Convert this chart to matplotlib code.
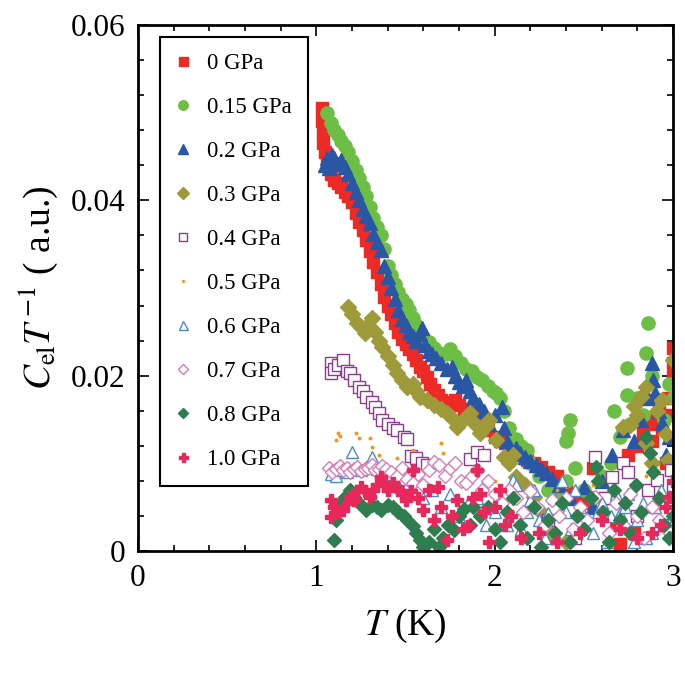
import matplotlib
matplotlib.use('Agg')
import matplotlib.pyplot as plt
from matplotlib.path import Path

plt.rcParams['font.family'] = ['Liberation Serif', 'DejaVu Serif']
plt.rcParams['mathtext.fontset'] = 'stix'

# ---- data (T in K, C_el/T in a.u.) ----
labels = ['0 GPa', '0.15 GPa', '0.2 GPa', '0.3 GPa', '0.4 GPa',
          '0.5 GPa', '0.6 GPa', '0.7 GPa', '0.8 GPa', '1.0 GPa']

t_00 = [1.03, 1.03, 1.04, 1.04, 1.05, 1.06, 1.08, 1.10, 1.12, 1.14, 1.16, 1.18, 1.20, 1.22, 1.24, 1.26,
        1.28, 1.30, 1.32, 1.34, 1.36, 1.38, 1.40, 1.42, 1.44, 1.46, 1.48, 1.50, 1.52, 1.54, 1.56, 1.58,
        1.60, 1.62, 1.64, 1.66, 1.68, 1.70, 1.72, 1.75, 1.78, 1.80, 1.83, 1.86, 1.89, 1.92, 1.96, 2.00,
        2.03, 2.06, 2.09, 2.12, 2.15, 2.18, 2.22, 2.26, 2.30, 2.35, 2.40, 2.45, 2.50, 2.55, 2.62, 2.68,
        2.70, 2.75, 2.78, 2.80, 2.83, 2.86, 2.88, 2.90, 2.92, 2.94, 2.96, 2.97, 2.99, 3.00, 3.00, 3.00]
c_00 = [0.0505, 0.0490, 0.0478, 0.0465, 0.0455, 0.0445, 0.0430, 0.0423, 0.0420, 0.0415, 0.0410, 0.0405,
        0.0398, 0.0385, 0.0375, 0.0366, 0.0355, 0.0342, 0.0330, 0.0318, 0.0305, 0.0290, 0.0280, 0.0270,
        0.0260, 0.0250, 0.0242, 0.0236, 0.0230, 0.0225, 0.0218, 0.0210, 0.0205, 0.0198, 0.0190, 0.0184,
        0.0178, 0.0172, 0.0170, 0.0168, 0.0172, 0.0166, 0.0162, 0.0160, 0.0155, 0.0148, 0.0138, 0.0130,
        0.0126, 0.0123, 0.0120, 0.0118, 0.0110, 0.0104, 0.0100, 0.0096, 0.0090, 0.0086, 0.0072, 0.0060,
        0.0055, 0.0095, 0.0060, 0.0030, 0.0008, 0.0110, 0.0020, 0.0120, 0.0135, 0.0150, 0.0125, 0.0145,
        0.0160, 0.0140, 0.0100, 0.0175, 0.0155, 0.0200, 0.0215, 0.0232]

t_015 = [1.06, 1.08, 1.10, 1.12, 1.14, 1.16, 1.18, 1.20, 1.22, 1.24, 1.26, 1.28, 1.30, 1.32, 1.34, 1.36,
         1.38, 1.40, 1.42, 1.44, 1.46, 1.48, 1.50, 1.52, 1.54, 1.56, 1.58, 1.60, 1.63, 1.66, 1.69, 1.72,
         1.75, 1.78, 1.81, 1.84, 1.87, 1.90, 1.93, 1.96, 1.99, 2.01, 2.03, 2.05, 2.08, 2.12, 2.15, 2.18,
         2.20, 2.25, 2.30, 2.35, 2.40, 2.40, 2.41, 2.42, 2.45, 2.50, 2.55, 2.60, 2.65, 2.67, 2.70, 2.72,
         2.74, 2.74, 2.76, 2.80, 2.83, 2.85, 2.86, 2.88, 2.92, 2.95, 2.98, 3.00]
c_015 = [0.0500, 0.0488, 0.0480, 0.0475, 0.0468, 0.0462, 0.0455, 0.0445, 0.0435, 0.0425, 0.0415, 0.0405,
         0.0392, 0.0380, 0.0370, 0.0360, 0.0345, 0.0325, 0.0315, 0.0305, 0.0295, 0.0288, 0.0282, 0.0275,
         0.0266, 0.0258, 0.0250, 0.0244, 0.0238, 0.0232, 0.0226, 0.0225, 0.0230, 0.0222, 0.0215, 0.0208,
         0.0205, 0.0199, 0.0195, 0.0188, 0.0182, 0.0180, 0.0175, 0.0160, 0.0140, 0.0128, 0.0120, 0.0115,
         0.0100, 0.0085, 0.0070, 0.0065, 0.0080, 0.0125, 0.0135, 0.0150, 0.0095, 0.0070, 0.0060, 0.0085,
         0.0100, 0.0160, 0.0130, 0.0138, 0.0178, 0.0209, 0.0145, 0.0175, 0.0155, 0.0226, 0.0260, 0.0200,
         0.0172, 0.0150, 0.0190, 0.0175]

t_02 = [1.05, 1.06, 1.07, 1.08, 1.09, 1.10, 1.12, 1.14, 1.16, 1.18, 1.20, 1.22, 1.24, 1.26, 1.28, 1.30,
        1.32, 1.34, 1.36, 1.38, 1.40, 1.42, 1.44, 1.46, 1.48, 1.50, 1.52, 1.54, 1.56, 1.58, 1.59, 1.61,
        1.63, 1.65, 1.67, 1.70, 1.73, 1.76, 1.78, 1.80, 1.82, 1.84, 1.86, 1.88, 1.91, 1.94, 1.95, 1.97,
        2.00, 2.04, 2.05, 2.07, 2.09, 2.12, 2.14, 2.17, 2.20, 2.23, 2.26, 2.29, 2.32, 2.36, 2.42, 2.50,
        2.55, 2.60, 2.66, 2.72, 2.78, 2.82, 2.86, 2.88, 2.89, 2.90, 2.92, 2.94, 2.96, 2.98]
c_02 = [0.0440, 0.0448, 0.0437, 0.0445, 0.0452, 0.0448, 0.0442, 0.0446, 0.0438, 0.0430, 0.0420, 0.0410,
        0.0400, 0.0390, 0.0382, 0.0374, 0.0362, 0.0352, 0.0343, 0.0325, 0.0312, 0.0300, 0.0288, 0.0275,
        0.0265, 0.0258, 0.0250, 0.0245, 0.0240, 0.0248, 0.0254, 0.0235, 0.0228, 0.0225, 0.0220, 0.0215,
        0.0208, 0.0210, 0.0200, 0.0193, 0.0188, 0.0195, 0.0182, 0.0175, 0.0168, 0.0160, 0.0150, 0.0145,
        0.0155, 0.0164, 0.0140, 0.0125, 0.0115, 0.0118, 0.0112, 0.0107, 0.0103, 0.0098, 0.0093, 0.0089,
        0.0082, 0.0075, 0.0060, 0.0073, 0.0050, 0.0080, 0.0110, 0.0138, 0.0125, 0.0150, 0.0175, 0.0214,
        0.0195, 0.0180, 0.0160, 0.0146, 0.0110, 0.0130]

t_03 = [1.18, 1.20, 1.23, 1.25, 1.27, 1.29, 1.31, 1.33, 1.35, 1.37, 1.40, 1.43, 1.45, 1.48, 1.51, 1.54,
        1.56, 1.58, 1.62, 1.66, 1.70, 1.73, 1.76, 1.79, 1.82, 1.86, 1.89, 1.92, 1.95, 1.97, 2.01, 2.05,
        2.08, 2.10, 2.12, 2.17, 2.22, 2.26, 2.31, 2.40, 2.72, 2.76, 2.78, 2.80, 2.82, 2.85, 2.85, 2.88,
        2.91, 2.94, 2.96, 2.97, 3.00]
c_03 = [0.0278, 0.0270, 0.0260, 0.0255, 0.0249, 0.0258, 0.0266, 0.0250, 0.0240, 0.0233, 0.0222, 0.0212,
        0.0203, 0.0195, 0.0187, 0.0191, 0.0182, 0.0176, 0.0172, 0.0166, 0.0162, 0.0157, 0.0152, 0.0141,
        0.0150, 0.0157, 0.0145, 0.0135, 0.0143, 0.0150, 0.0127, 0.0107, 0.0100, 0.0110, 0.0084, 0.0075,
        0.0062, 0.0045, 0.0020, 0.0010, 0.0141, 0.0144, 0.0165, 0.0155, 0.0176, 0.0187, 0.0123, 0.0100,
        0.0160, 0.0172, 0.0134, 0.0104, 0.0218]

t_04 = [1.08, 1.08, 1.10, 1.12, 1.15, 1.17, 1.19, 1.21, 1.24, 1.26, 1.28, 1.31, 1.33, 1.35, 1.37, 1.40,
        1.43, 1.45, 1.49, 1.51, 1.53, 1.56, 1.59, 1.62, 1.86, 1.90, 1.94, 2.30, 2.45, 2.56, 2.62, 2.66,
        2.72, 2.75, 2.80, 2.86, 2.91, 2.95, 2.99, 3.00]
c_04 = [0.0214, 0.0203, 0.0208, 0.0212, 0.0218, 0.0205, 0.0203, 0.0195, 0.0187, 0.0182, 0.0176, 0.0170,
        0.0164, 0.0157, 0.0149, 0.0145, 0.0140, 0.0138, 0.0130, 0.0128, 0.0108, 0.0106, 0.0100, 0.0098,
        0.0105, 0.0113, 0.0110, 0.0035, 0.0015, 0.0107, 0.0060, 0.0084, 0.0100, 0.0090, 0.0040, 0.0070,
        0.0081, 0.0030, 0.0092, 0.0070]

t_05 = [1.11, 1.12, 1.13, 1.22, 1.24, 1.30, 1.31, 1.35, 1.45, 1.54, 1.55, 1.65, 1.70, 1.71, 2.00, 2.35,
        2.55, 2.85]
c_05 = [0.0127, 0.0135, 0.0131, 0.0135, 0.0129, 0.0129, 0.0119, 0.0110, 0.0106, 0.0115, 0.0090, 0.0100,
        0.0123, 0.0112, 0.0080, 0.0070, 0.0075, 0.0085]

t_06 = [1.08, 1.11, 1.14, 1.17, 1.20, 1.23, 1.25, 1.28, 1.31, 1.34, 1.37, 1.40, 1.43, 1.46, 1.50, 1.55,
        1.60, 1.65, 1.70, 1.75, 1.80, 1.85, 1.90, 1.95, 2.00, 2.05, 2.07, 2.10, 2.12, 2.15, 2.18, 2.20,
        2.22, 2.25, 2.28, 2.30, 2.33, 2.35, 2.38, 2.40, 2.43, 2.45, 2.48, 2.50, 2.55, 2.58, 2.60, 2.63,
        2.65, 2.68, 2.70, 2.73, 2.75, 2.78, 2.80, 2.83, 2.85, 2.88, 2.90, 2.93, 2.95, 2.98, 3.00]
c_06 = [0.0088, 0.0086, 0.0092, 0.0090, 0.0113, 0.0093, 0.0092, 0.0096, 0.0107, 0.0094, 0.0092, 0.0088,
        0.0080, 0.0075, 0.0072, 0.0068, 0.0060, 0.0070, 0.0050, 0.0065, 0.0040, 0.0055, 0.0060, 0.0030,
        0.0045, 0.0065, 0.0030, 0.0081, 0.0075, 0.0025, 0.0045, 0.0058, 0.0070, 0.0035, 0.0015, 0.0043,
        0.0060, 0.0015, 0.0080, 0.0045, 0.0025, 0.0070, 0.0050, 0.0030, 0.0020, 0.0045, 0.0055, 0.0010,
        0.0040, 0.0065, 0.0043, 0.0050, 0.0065, 0.0010, 0.0035, 0.0055, 0.0015, 0.0020, 0.0050, 0.0070,
        0.0030, 0.0020, 0.0040]

t_07 = [1.07, 1.09, 1.11, 1.13, 1.15, 1.17, 1.19, 1.21, 1.23, 1.25, 1.27, 1.29, 1.31, 1.33, 1.35, 1.37,
        1.39, 1.42, 1.45, 1.48, 1.51, 1.54, 1.57, 1.60, 1.63, 1.66, 1.69, 1.72, 1.75, 1.78, 1.81, 1.84,
        1.87, 1.90, 1.93, 1.96, 2.00, 2.04, 2.08, 2.12, 2.16, 2.20, 2.24, 2.28, 2.32, 2.36, 2.40, 2.44,
        2.48, 2.52, 2.56, 2.60, 2.64, 2.68, 2.72, 2.76, 2.80, 2.84, 2.88, 2.92, 2.96, 3.00]
c_07 = [0.0095, 0.0090, 0.0093, 0.0097, 0.0092, 0.0095, 0.0090, 0.0094, 0.0096, 0.0091, 0.0093, 0.0095,
        0.0098, 0.0092, 0.0094, 0.0097, 0.0093, 0.0090, 0.0085, 0.0095, 0.0082, 0.0078, 0.0088, 0.0075,
        0.0092, 0.0102, 0.0098, 0.0085, 0.0095, 0.0100, 0.0080, 0.0078, 0.0085, 0.0092, 0.0070, 0.0080,
        0.0065, 0.0055, 0.0070, 0.0060, 0.0045, 0.0068, 0.0050, 0.0030, 0.0058, 0.0040, 0.0060, 0.0025,
        0.0050, 0.0035, 0.0062, 0.0045, 0.0020, 0.0055, 0.0030, 0.0065, 0.0040, 0.0015, 0.0050, 0.0035,
        0.0025, 0.0045]

t_08 = [1.10, 1.11, 1.12, 1.14, 1.16, 1.19, 1.21, 1.24, 1.28, 1.31, 1.34, 1.36, 1.40, 1.43, 1.46, 1.49,
        1.51, 1.54, 1.56, 1.58, 1.60, 1.63, 1.66, 1.69, 1.71, 1.74, 1.77, 1.80, 1.83, 1.86, 1.88, 1.92,
        1.96, 2.00, 2.03, 2.07, 2.10, 2.14, 2.18, 2.22, 2.26, 2.30, 2.34, 2.38, 2.42, 2.46, 2.50, 2.54,
        2.57, 2.58, 2.61, 2.64, 2.67, 2.70, 2.73, 2.76, 2.79, 2.82, 2.85, 2.87, 2.89, 2.92, 2.95, 2.98,
        3.00]
c_08 = [0.0012, 0.0035, 0.0047, 0.0055, 0.0062, 0.0070, 0.0062, 0.0055, 0.0047, 0.0052, 0.0050, 0.0047,
        0.0052, 0.0050, 0.0045, 0.0040, 0.0035, 0.0028, 0.0020, 0.0012, 0.0005, 0.0010, 0.0025, 0.0005,
        0.0015, 0.0030, 0.0024, 0.0040, 0.0048, 0.0030, 0.0050, 0.0040, 0.0050, 0.0025, 0.0010, 0.0045,
        0.0060, 0.0030, 0.0015, 0.0050, 0.0005, 0.0035, 0.0020, 0.0055, 0.0010, 0.0040, 0.0025, 0.0060,
        0.0096, 0.0080, 0.0045, 0.0010, 0.0070, 0.0035, 0.0055, 0.0020, 0.0075, 0.0045, 0.0130, 0.0112,
        0.0090, 0.0060, 0.0030, 0.0015, 0.0040]

t_10 = [1.08, 1.08, 1.10, 1.12, 1.15, 1.17, 1.19, 1.21, 1.23, 1.25, 1.27, 1.30, 1.32, 1.34, 1.36, 1.38,
        1.40, 1.43, 1.45, 1.48, 1.50, 1.53, 1.54, 1.57, 1.60, 1.63, 1.66, 1.68, 1.70, 1.73, 1.76, 1.79,
        1.82, 1.85, 1.88, 1.90, 1.92, 1.94, 1.97, 2.00, 2.03, 2.06, 2.09, 2.15, 2.25, 2.35, 2.48, 2.60,
        2.70, 2.80, 2.88, 2.93, 2.96, 2.98, 3.00]
c_10 = [0.0058, 0.0039, 0.0050, 0.0045, 0.0047, 0.0055, 0.0062, 0.0058, 0.0068, 0.0073, 0.0068, 0.0062,
        0.0070, 0.0075, 0.0084, 0.0078, 0.0070, 0.0078, 0.0073, 0.0065, 0.0058, 0.0068, 0.0092, 0.0060,
        0.0047, 0.0070, 0.0035, 0.0073, 0.0050, 0.0013, 0.0040, 0.0058, 0.0025, 0.0028, 0.0060, 0.0092,
        0.0065, 0.0045, 0.0010, 0.0050, 0.0070, 0.0030, 0.0040, 0.0015, 0.0020, 0.0010, 0.0020, 0.0035,
        0.0025, 0.0015, 0.0020, 0.0030, 0.0050, 0.0062, 0.0080]


def quad_diamond():
    # four small diamonds around the centre (like the ❖ glyph)
    verts, codes = [], []
    for cx, cy in [(0, 0.5), (0.5, 0), (0, -0.5), (-0.5, 0)]:
        r = 0.42
        verts += [(cx, cy + r), (cx + r, cy), (cx, cy - r), (cx - r, cy), (cx, cy + r)]
        codes += [Path.MOVETO, Path.LINETO, Path.LINETO, Path.LINETO, Path.CLOSEPOLY]
    return Path(verts, codes)


fig = plt.figure(figsize=(6.85, 6.77), dpi=100)
ax = fig.add_axes([0.2015, 0.1861, 0.781, 0.777])

ms = 9
series = [
    (t_00, c_00, dict(marker='s', color='#EE2A24', ms=ms)),
    (t_015, c_015, dict(marker='o', color='#6DBE45', ms=ms + 0.5)),
    (t_02, c_02, dict(marker='^', color='#2A57A5', ms=ms + 1)),
    (t_03, c_03, dict(marker='D', color='#9E9A3A', ms=ms - 1)),
    (t_04, c_04, dict(marker='s', mfc='white', mec='#8E3A8E', mew=1.0, ms=ms - 1)),
    (t_05, c_05, dict(marker='o', color='#F7941D', ms=1.8)),
    (t_06, c_06, dict(marker='^', mfc='white', mec='#4A8BD0', mew=1.0, ms=ms)),
    (t_07, c_07, dict(marker='D', mfc='white', mec='#D97BB7', mew=1.0, ms=ms - 1.5)),
    (t_08, c_08, dict(marker=quad_diamond(), color='#2E7D4F', ms=ms + 1)),
    (t_10, c_10, dict(marker='P', color='#E8285A', ms=ms)),
]
for (t, c, style), lab in zip(series, labels):
    ax.plot(t, c, linestyle='none', label=lab, **style)

ax.set_xlim(0, 3)
ax.set_ylim(0, 0.06)
ax.set_xticks([0, 1, 2, 3])
ax.set_xticklabels(['0', '1', '2', '3'])
ax.set_yticks([0, 0.02, 0.04, 0.06])
ax.set_yticklabels(['0', '0.02', '0.04', '0.06'])
ax.set_xticks([i * 0.2 for i in range(16)], minor=True)
ax.set_yticks([i * 0.004 for i in range(16)], minor=True)
ax.tick_params(which='both', direction='in', top=True, right=True, labelsize=22.5, width=1.2)
ax.tick_params(which='major', length=8, pad=9)
ax.tick_params(which='minor', length=4)
for sp in ax.spines.values():
    sp.set_linewidth(2)

ax.set_xlabel(r'$T$ (K)', fontsize=27, labelpad=10)
ax.set_ylabel(r'$C_{\mathrm{el}}T^{\,\mathrm{-1}}$ ( a.u.)', fontsize=27, labelpad=8)

leg = ax.legend(loc='upper left', bbox_to_anchor=(0.041, 0.977), borderaxespad=0,
                fontsize=16.5, numpoints=1, markerscale=0.72, fancybox=False,
                edgecolor='black', framealpha=1, borderpad=0.7, handlelength=0.6,
                handletextpad=0.75, labelspacing=1.0)
leg.get_frame().set_linewidth(1.5)

fig.savefig('out.png', dpi=100)
